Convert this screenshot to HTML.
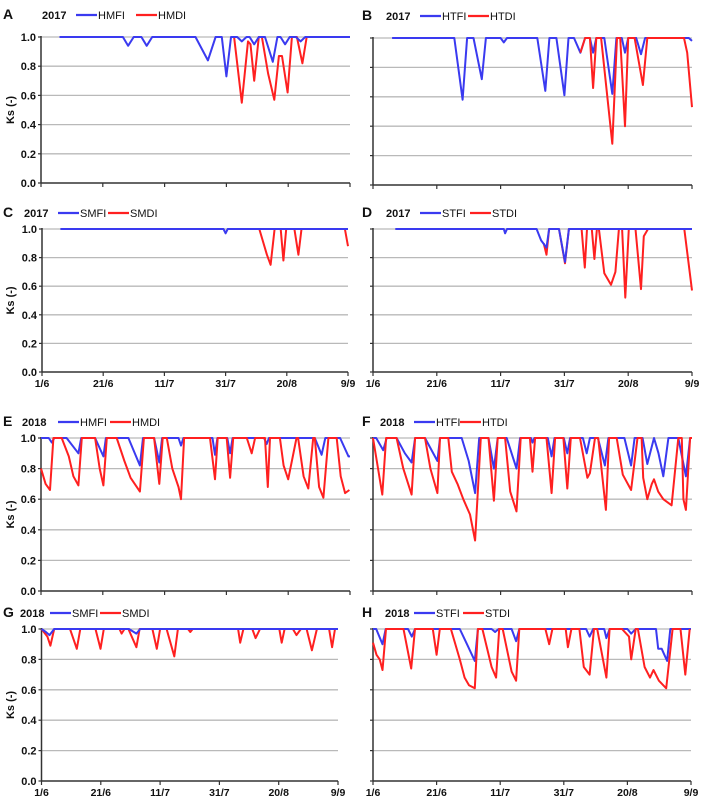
<!DOCTYPE html>
<html><head><meta charset="utf-8"><style>
html,body{margin:0;padding:0;background:#fff;}
svg{display:block;font-family:"Liberation Sans",sans-serif;}
</style></head><body>
<svg id="chart" width="707" height="803" viewBox="0 0 707 803" xmlns="http://www.w3.org/2000/svg"></svg>
<script>
const xTickLabels = ["1/6","21/6","11/7","31/7","20/8","9/9"];
const xTickDays = [0,20,40,60,80,100];
const yTicks = [0,0.2,0.4,0.6,0.8,1.0];

const hmfi2017 = [[6,1],[26.5,1],[28.2,.94],[30,1],[32.5,1],[34.2,.94],[36,1],[50,1],[54,.84],[56.5,1],[58.5,1],[60,.73],[61.5,1],[63.5,1],[65,.97],[66.5,1],[67.5,1],[69,.95],[70.5,1],[72.5,1],[75,.83],[76.5,1],[77.5,1],[79,.95],[80.5,1],[82.5,1],[84,.97],[85.5,1],[100,1]];
const hmdi2017 = [[62.5,1],[65,.55],[67,.97],[67.8,.95],[69,.70],[70.5,1],[71.5,1],[73.5,.75],[75.5,.57],[77,.87],[78,.87],[79.8,.62],[81.2,1],[82.8,1],[84.6,.82],[86,1]];
const htfi2017 = [[6,1],[25.5,1],[28.1,.58],[29.5,1],[31.5,1],[34.1,.72],[35.4,1],[40,1],[41,.97],[42,1],[51.5,1],[54,.64],[55.3,1],[57.5,1],[60,.61],[61.3,1],[63,1],[65,.90],[66.5,1],[68,1],[69,.90],[70,1],[72.5,1],[75,.62],[76.3,1],[78,1],[79,.90],[80,1],[82.5,1],[84,.89],[85.3,1],[99,1],[100,.98]];
const htdi2017 = [[65,.90],[66.5,1],[68,1],[69,.66],[70,1],[71.5,1],[75,.28],[76.5,1],[77.5,1],[79,.40],[80,1],[82,1],[84.6,.68],[86,1],[86.5,1],[97.5,1],[98.5,.9],[100,.53]];
const smfi2017 = [[6,1],[59.3,1],[60,.97],[60.7,1],[100,1]];
const smdi2017 = [[71,1],[73.5,.82],[74.7,.75],[76,1],[78,1],[78.9,.78],[79.8,1],[82.5,1],[83.8,.82],[84.8,1],[99,1],[100,.88]];
const stfi2017 = [[7,1],[41,1],[41.4,.97],[42,1],[51.3,1],[52.7,.92],[54.4,.87],[55.2,1],[58.3,1],[60.2,.77],[61.4,1],[100,1]];
const stdi2017 = [[53.5,.90],[54.4,.82],[55.2,1],[58.3,1],[60.2,.76],[61.4,1],[65.4,1],[66.4,.73],[67.1,1],[68.6,1],[69.4,.79],[70.2,1],[70.8,1],[72.5,.69],[74.6,.61],[76,.70],[77.1,1],[78.1,1],[79.1,.52],[80.2,1],[82.3,1],[84,.58],[84.9,.95],[86.2,1],[97.6,1],[100,.57]];

const hmfi2018 = [[0,1],[2.5,1],[3.5,.97],[4.3,1],[8.3,1],[12.1,.90],[13,1],[17.5,1],[20.2,.88],[21,1],[28.3,1],[32,.82],[33,1],[36.6,1],[38.3,.84],[39.2,1],[44.5,1],[45.3,.95],[46.1,1],[55.5,1],[56.3,.89],[57.1,1],[60.3,1],[61.2,.90],[62,1],[72.2,1],[73,.96],[73.8,1],[88.6,1],[90.8,.89],[92,1],[96.8,1],[99.5,.88],[100,.88]];
const hmdi2018 = [[0,.80],[1.5,.70],[2.9,.66],[4,1],[6.7,1],[9,.88],[10.5,.75],[12.1,.69],[13.2,1],[17.5,1],[19,.80],[20.2,.69],[21.3,1],[24.5,1],[27,.85],[29,.74],[32,.65],[33.3,1],[36.6,1],[38.3,.70],[39.4,1],[40.7,1],[42.5,.80],[44.5,.68],[45.3,.60],[46.3,1],[54.7,1],[56.3,.73],[57.2,1],[60.1,1],[61.2,.74],[62.2,1],[66.6,1],[68.2,.90],[69.3,1],[72.5,1],[73.4,.68],[74.1,1],[77.3,1],[78.5,.82],[80,.73],[82.7,1],[83.2,1],[85,.75],[86.5,.67],[88.1,1],[88.6,1],[90,.68],[91.4,.61],[93,1],[95.7,1],[97,.75],[98.4,.64],[99.8,.66]];
const htfi2018 = [[0,1],[1,1],[3.2,.92],[4.3,1],[7.4,1],[10,.90],[12.1,.84],[13.2,1],[16.3,1],[20.2,.85],[21,1],[27.8,1],[30,.85],[32,.64],[33.3,1],[36.2,1],[37.9,.80],[39.1,1],[41.9,1],[45,.80],[46.1,1],[49.5,1],[50,.97],[50.6,1],[54.8,1],[56,.88],[56.9,1],[59.8,1],[60.9,.90],[61.8,1],[65.8,1],[67,.90],[68,1],[70.5,1],[72.7,.82],[73.8,1],[78.8,1],[80.9,.82],[82,1],[84.5,1],[86,.83],[88.1,1],[89.5,.90],[91,.75],[92.6,1],[95.7,1],[98.1,.75],[99.4,1],[100,1]];
const htdi2018 = [[0,1],[1.2,.85],[2.9,.63],[4.1,1],[7.4,1],[9.5,.80],[12.1,.63],[13.2,1],[16.3,1],[18,.80],[20.2,.64],[21,1],[23.6,1],[24.7,.78],[26.5,.70],[28.3,.60],[30.4,.50],[32,.33],[33.8,1],[36.2,1],[37.9,.59],[39.1,1],[41.4,1],[43,.65],[45,.52],[46.3,1],[49.2,1],[50,.78],[50.8,1],[54.4,1],[56,.64],[57.1,1],[59.7,1],[60.9,.67],[62,1],[64.9,1],[67.2,.74],[68,.77],[69.6,1],[70.6,1],[73,.53],[74,1],[76.4,1],[78.3,.76],[80.9,.66],[82.9,1],[84.2,1],[84.7,.74],[86,.60],[87.4,.70],[88.1,.73],[89.4,.65],[91,.60],[93.6,.56],[95.7,1],[96.8,1],[97.3,.60],[98.1,.53],[99.4,1],[100,1]];
const smfi2018 = [[0,1],[1.5,.98],[2.7,.96],[4.3,1],[29.5,1],[32,.97],[33.3,1],[100,1]];
const smdi2018 = [[0,1],[2,.95],[3,.89],[4.3,1],[9.6,1],[11.9,.87],[13.1,1],[18.2,1],[19.9,.87],[21,1],[26.3,1],[27,.97],[28,1],[29.3,1],[32,.88],[33.1,1],[37.4,1],[38.9,.87],[40,1],[42.2,1],[44.8,.82],[46,1],[49.4,1],[50.2,.98],[51,1],[66.3,1],[67,.91],[68.1,1],[71.1,1],[72.2,.94],[73.7,1],[80.2,1],[81,.91],[82,1],[84.8,1],[86,.96],[87.5,1],[89.4,1],[91.2,.86],[92.9,1],[97,1],[98,.88],[99,1],[100,1]];
const stfi2018 = [[0,1],[1,1],[3,.90],[4,1],[11,1],[12.2,.95],[13.2,1],[27.3,1],[30,.88],[32,.79],[33,1],[37.3,1],[38.4,.98],[39.5,1],[43.6,1],[45,.92],[46,1],[67,1],[68.1,.95],[69.2,1],[72.7,1],[73.4,.94],[74.4,1],[80,1],[81.2,.97],[82.6,1],[89,1],[89.7,.87],[90.8,.87],[92.5,.79],[93.5,1],[100,1]];
const stdi2018 = [[0,.91],[1.1,.83],[2.1,.80],[3,.73],[4.1,1],[9.6,1],[12,.74],[13.2,1],[18.8,1],[20,.83],[21,1],[24.5,1],[27.3,.80],[28.8,.68],[30.2,.63],[32,.61],[33,1],[34.4,1],[37.3,.75],[38.7,.68],[39.7,1],[40.8,1],[43.6,.72],[45,.66],[46,1],[54.2,1],[55.4,.90],[56.4,1],[60.6,1],[61.3,.88],[62.4,1],[64.9,1],[66.3,.75],[68.1,.70],[69.5,1],[70.5,1],[73.4,.68],[74.4,1],[78.3,1],[80.5,.95],[81.2,.80],[82.6,1],[83.3,1],[85.4,.75],[87.1,.68],[88.2,.73],[89.9,.66],[92.2,.61],[94.2,1],[96.7,1],[98.2,.70],[99.6,1]];

const panels = [
 {id:"a",letter:"A",year:"2017",x0:41,x1:350,yt:37,yb:183,ly:15,yl:true,xl:false,leg:[42,76,"HMFI",136,"HMDI"],fi:hmfi2017,di:hmdi2017,lx:3,fiTop:true},
 {id:"b",letter:"B",year:"2017",x0:373,x1:692,yt:38,yb:185,ly:16,yl:false,xl:false,leg:[386,420,"HTFI",468,"HTDI"],fi:htfi2017,di:htdi2017,lx:362,fiTop:false},
 {id:"c",letter:"C",year:"2017",x0:42,x1:348,yt:229,yb:372,ly:213,yl:true,xl:true,leg:[24,58,"SMFI",108,"SMDI"],fi:smfi2017,di:smdi2017,lx:3,fiTop:true},
 {id:"d",letter:"D",year:"2017",x0:373,x1:692,yt:229,yb:372,ly:213,yl:false,xl:true,leg:[386,420,"STFI",470,"STDI"],fi:stfi2017,di:stdi2017,lx:362,fiTop:true},
 {id:"e",letter:"E",year:"2018",x0:41,x1:350,yt:438,yb:591,ly:422,yl:true,xl:false,leg:[22,58,"HMFI",110,"HMDI"],fi:hmfi2018,di:hmdi2018,lx:3,fiTop:false},
 {id:"f",letter:"F",year:"2018",x0:373,x1:692,yt:438,yb:591,ly:422,yl:false,xl:false,leg:[380,414,"HTFI",460,"HTDI"],fi:htfi2018,di:htdi2018,lx:362,fiTop:false},
 {id:"g",letter:"G",year:"2018",x0:41.5,x1:338,yt:629,yb:781,ly:613,yl:true,xl:true,leg:[20,50,"SMFI",100,"SMDI"],fi:smfi2018,di:smdi2018,lx:3,fiTop:true},
 {id:"h",letter:"H",year:"2018",x0:373,x1:691,yt:629,yb:781,ly:613,yl:false,xl:true,leg:[385,414,"STFI",463,"STDI"],fi:stfi2018,di:stdi2018,lx:362,fiTop:false}
];

const NS="http://www.w3.org/2000/svg";
const svg=document.getElementById("chart");
function mk(tag,attrs,parent){const e=document.createElementNS(NS,tag);for(const k in attrs)e.setAttribute(k,attrs[k]);(parent||svg).appendChild(e);return e;}

panels.forEach(p=>{
  const g=mk("g",{});
  
  
  const xs=d=>p.x0+(p.x1-p.x0)*d/100;
  const ys=v=>p.yb-(p.yb-p.yt)*v;
  yTicks.forEach(t=>{
    if(t===0)return;
    const l=mk("line",{x1:p.x0,x2:p.x1,y1:ys(t),y2:ys(t),stroke:"#b9b9b9","stroke-width":1.3},g);
    
    
  });
  const ya=mk("line",{x1:p.x0,x2:p.x0,y1:p.yt-1,y2:p.yb,stroke:"#333","stroke-width":1.5},g);
  
  
  const xa=mk("line",{x1:p.x0,x2:p.x1,y1:p.yb,y2:p.yb,stroke:"#333","stroke-width":1.5},g);
  
  
  yTicks.forEach(t=>{
    mk("line",{x1:p.x0-3,x2:p.x0,y1:ys(t),y2:ys(t),stroke:"#333","stroke-width":1.2},g);
    if(p.yl){
      const tx=mk("text",{x:p.x0-5,y:ys(t)+4,"text-anchor":"end","font-size":"11","font-weight":"bold",fill:"#111"},g);
      tx.textContent=t.toFixed(1);
      
      
    }
  });
  xTickDays.forEach((d,i)=>{
    mk("line",{x1:xs(d),x2:xs(d),y1:p.yb,y2:p.yb+4,stroke:"#333","stroke-width":1.2},g);
    if(p.xl){
      const tx=mk("text",{x:xs(d),y:p.yb+15,"text-anchor":"middle","font-size":"10.5","font-weight":"bold",fill:"#111"},g);
      tx.textContent=xTickLabels[i];
      
      
    }
  });
  if(p.yl){
    const cy=(p.yt+p.yb)/2;
    const yt=mk("text",{x:14,y:cy,"text-anchor":"middle","font-size":"11","font-weight":"bold",fill:"#111",transform:`rotate(-90 14 ${cy})`},g);
    yt.textContent="Ks (-)";
    
    
  }
  const toPts=arr=>arr.map(k=>xs(k[0]).toFixed(1)+","+ys(k[1]).toFixed(1)).join(" ");
  const drawFi=()=>{
    const fi=mk("polyline",{points:toPts(p.fi),fill:"none",stroke:"#3a3af0","stroke-width":2,"stroke-linejoin":"round"},g);
    
    
  };
  const drawDi=()=>{
    const di=mk("polyline",{points:toPts(p.di),fill:"none",stroke:"#ff2020","stroke-width":2,"stroke-linejoin":"round"},g);
    
    
  };
  if(p.fiTop){drawDi();drawFi();}else{drawFi();drawDi();}
  const lt=mk("text",{x:p.lx,y:p.ly+4,"font-size":"14","font-weight":"bold",fill:"#111"},g);
  lt.textContent=p.letter;
  
  
  const yr=mk("text",{x:p.leg[0],y:p.ly+4,"font-size":"11","font-weight":"bold",fill:"#111"},g);
  yr.textContent=p.year;
  
  
  const l1=mk("line",{x1:p.leg[1],x2:p.leg[1]+21,y1:p.ly,y2:p.ly,stroke:"#3a3af0","stroke-width":2.2},g);
  
  
  const t1=mk("text",{x:p.leg[1]+22,y:p.ly+4,"font-size":"11",fill:"#111"},g);
  t1.textContent=p.leg[2];
  
  
  const l2=mk("line",{x1:p.leg[3],x2:p.leg[3]+21,y1:p.ly,y2:p.ly,stroke:"#ff2020","stroke-width":2.2},g);
  
  
  const t2=mk("text",{x:p.leg[3]+22,y:p.ly+4,"font-size":"11",fill:"#111"},g);
  t2.textContent=p.leg[4];
  
  
});
</script>
</body></html>
